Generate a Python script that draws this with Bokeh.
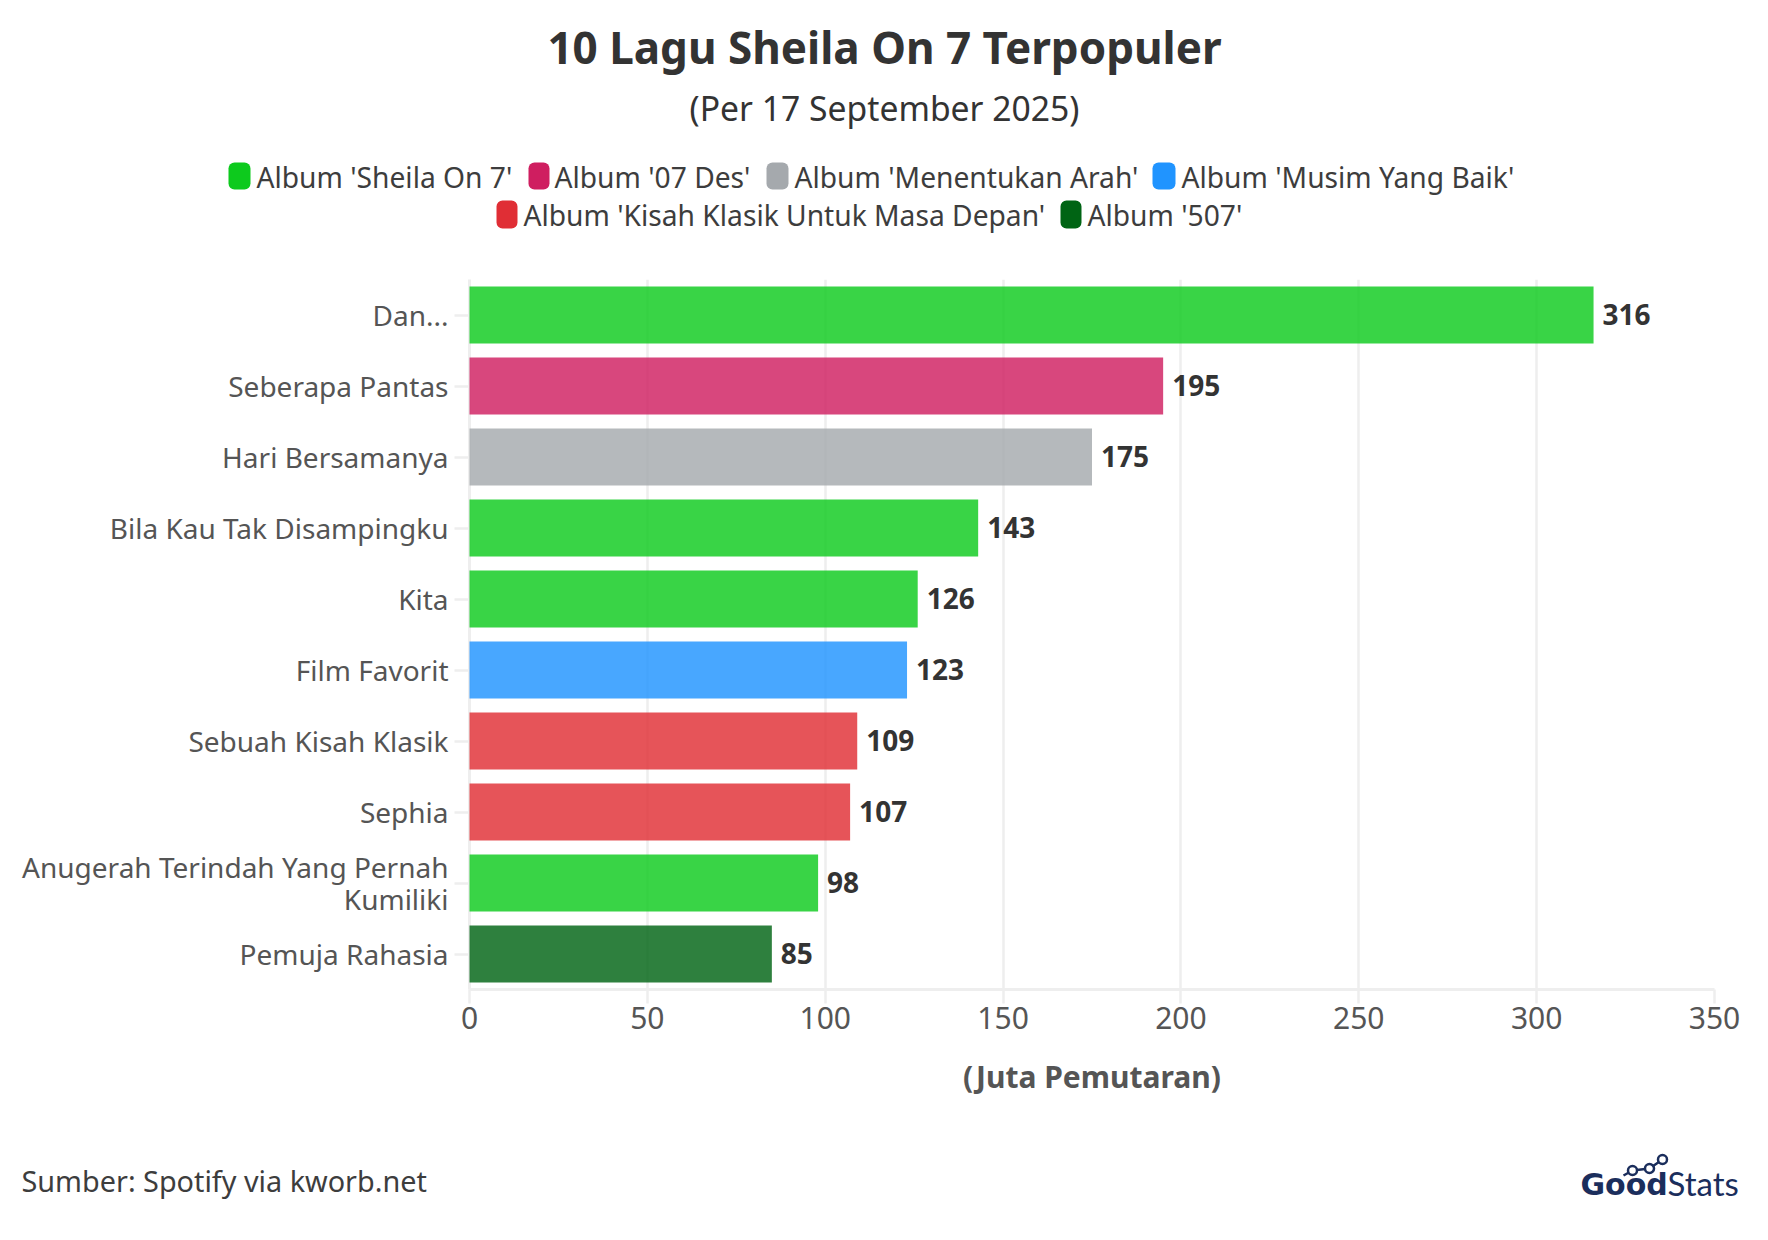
from bokeh.embed import file_html
from bokeh.resources import INLINE
from bokeh.plotting import figure
from bokeh.layouts import column
from bokeh.core.properties import value
from bokeh.models import ColumnDataSource, FactorRange, Range1d, FixedTicker

TITLE = "10 Lagu Sheila On 7 Terpopuler"
SUBTITLE = "(Per 17 September 2025)"
X_LABEL = "(Juta Pemutaran)"
SOURCE = "Sumber: Spotify via kworb.net"

songs = ["Dan...", "Seberapa Pantas", "Hari Bersamanya", "Bila Kau Tak Disampingku", "Kita",
         "Film Favorit", "Sebuah Kisah Klasik", "Sephia",
         "Anugerah Terindah Yang Pernah\nKumiliki", "Pemuja Rahasia"]
plays = [316, 195, 175, 143, 126, 123, 109, 107, 98, 85]
song_album = ["Sheila On 7", "07 Des", "Menentukan Arah", "Sheila On 7", "Sheila On 7",
              "Musim Yang Baik", "Kisah Klasik", "Kisah Klasik", "Sheila On 7", "507"]
album_colors = {"Sheila On 7": "#0DCA1D", "07 Des": "#CF1E60", "Menentukan Arah": "#A5A9AD",
                "Musim Yang Baik": "#2094FF", "Kisah Klasik": "#E02E35", "507": "#006414"}
legend_labels = ["Album 'Sheila On 7'", "Album '07 Des'", "Album 'Menentukan Arah'",
                 "Album 'Musim Yang Baik'", "Album 'Kisah Klasik Untuk Masa Depan'", "Album '507'"]
legend_albums = ["Sheila On 7", "07 Des", "Menentukan Arah", "Musim Yang Baik", "Kisah Klasik", "507"]
x_ticks = [0, 50, 100, 150, 200, 250, 300, 350]

FONT = "Noto Sans"
W, H = 1752, 1224
LEFT, TOP, RIGHT, BOTTOM, FOOT = 469, 279, 1714, 989, 1110
NAVY = "#1B2E5C"


def strip(y0, y1):
    f = figure(width=W, height=y1 - y0, output_backend="svg", toolbar_location=None,
               x_range=Range1d(0, W), y_range=Range1d(y1, y0), x_axis_location=None,
               y_axis_location=None, min_border=0, outline_line_color=None, frame_align=False)
    f.grid.visible = False
    return f


def text(f, x, y, s, size, color="#333333", bold=False, align="left", font=FONT):
    # the browser sets this baseline about 0.41 em low, so lift the text to the wanted line
    f.text(x=[x], y=[y - 0.41 * size], text=[s], text_font=value(font), text_font_size=f"{size}px",
           text_font_style="bold" if bold else "normal", text_color=color,
           text_align=align, text_baseline="alphabetic")


# header: title, subtitle, legend
head = strip(0, TOP)
text(head, 884, 65, TITLE, 44, bold=True, align="center")
text(head, 884, 121, SUBTITLE, 33.7, align="center")
chips = [(228, 250, 162, 189), (528, 549, 162, 189), (766, 788, 162, 189), (1152, 1175, 162, 189),
         (496, 517, 200, 228), (1060, 1081, 200, 228)]
text_y = [188.5, 188.5, 188.5, 188.5, 226.5, 226.5]
text_x = [256, 554, 794, 1181, 523, 1087]
for (l, r, t, b), s, a, tx, ty in zip(chips, legend_labels, legend_albums, text_x, text_y):
    head.quad(left=[l], right=[r], top=[t], bottom=[b], fill_color=album_colors[a],
              line_color=None, border_radius=6)
    text(head, tx, ty, s, 28.2, color="#3d3d3d")

# main chart
p = figure(width=W, height=FOOT - TOP, output_backend="svg", toolbar_location=None,
           y_range=FactorRange(factors=songs[::-1], range_padding=0, factor_padding=0),
           x_range=Range1d(0, 350), min_border_left=LEFT, min_border_right=W - RIGHT,
           min_border_top=0, min_border_bottom=FOOT - BOTTOM, outline_line_color=None,
           frame_align=False)
p.ygrid.visible = False
p.xgrid.grid_line_color = "#eeeeee"
p.xgrid.grid_line_width = 2.5
p.xaxis.ticker = FixedTicker(ticks=x_ticks)
for ax in (p.xaxis[0], p.yaxis[0]):
    ax.axis_line_color = "#eeeeee"
    ax.axis_line_width = 3
    ax.major_tick_line_color = "#eeeeee"
    ax.major_tick_line_width = 2.5
    ax.major_tick_in = 0
    ax.minor_tick_line_color = None
    ax.major_label_text_font = FONT
    ax.major_label_text_color = "#555555"
p.xaxis.major_label_text_font_size = "30px"
p.yaxis.major_label_text_font_size = "28px"
p.yaxis.major_label_text_line_height = 0.82
p.yaxis.major_label_text_baseline = "alphabetic"
p.xaxis.major_tick_out = 14
p.xaxis.major_label_standoff = 3
p.yaxis.major_tick_out = 15
p.yaxis.major_label_standoff = 6
p.xaxis.axis_label = X_LABEL
p.xaxis.axis_label_text_font = FONT
p.xaxis.axis_label_text_font_size = "30px"
p.xaxis.axis_label_text_font_style = "bold"
p.xaxis.axis_label_text_color = "#555555"
p.xaxis.axis_label_standoff = 24

src = ColumnDataSource(dict(song=songs, plays=plays, label=[str(v) for v in plays],
                            color=[album_colors[a] for a in song_album]))
p.hbar(y="song", left=0, right="plays", height=0.8, source=src, level="overlay",
       fill_color="color", fill_alpha=0.82, line_color=None)
p.text(x="plays", y="song", text="label", source=src, x_offset=9, y_offset=-1, level="overlay",
       text_font=value(FONT), text_font_size="28px", text_font_style="bold", text_color="#333333",
       text_baseline="middle", text_align="left")

# footer: source and logo
foot = strip(FOOT, H)
text(foot, 21, 1192, SOURCE, 28.8, color="#3d3d3d")
text(foot, 1580, 1196, "Good", 30, color=NAVY, bold=True, font="DejaVu Sans")
text(foot, 1667, 1196, "Stats", 33, color=NAVY, font="Lato")
logo_x = [1623, 1632, 1649, 1662]
logo_y = [1175, 1170, 1168, 1159]
foot.line(logo_x, logo_y, line_color=NAVY, line_width=2.5)
foot.scatter(logo_x[1:], logo_y[1:], size=9, fill_color="white", line_color=NAVY, line_width=2.5)

open("out.html", "w").write(file_html(column(head, p, foot, spacing=0), INLINE))
